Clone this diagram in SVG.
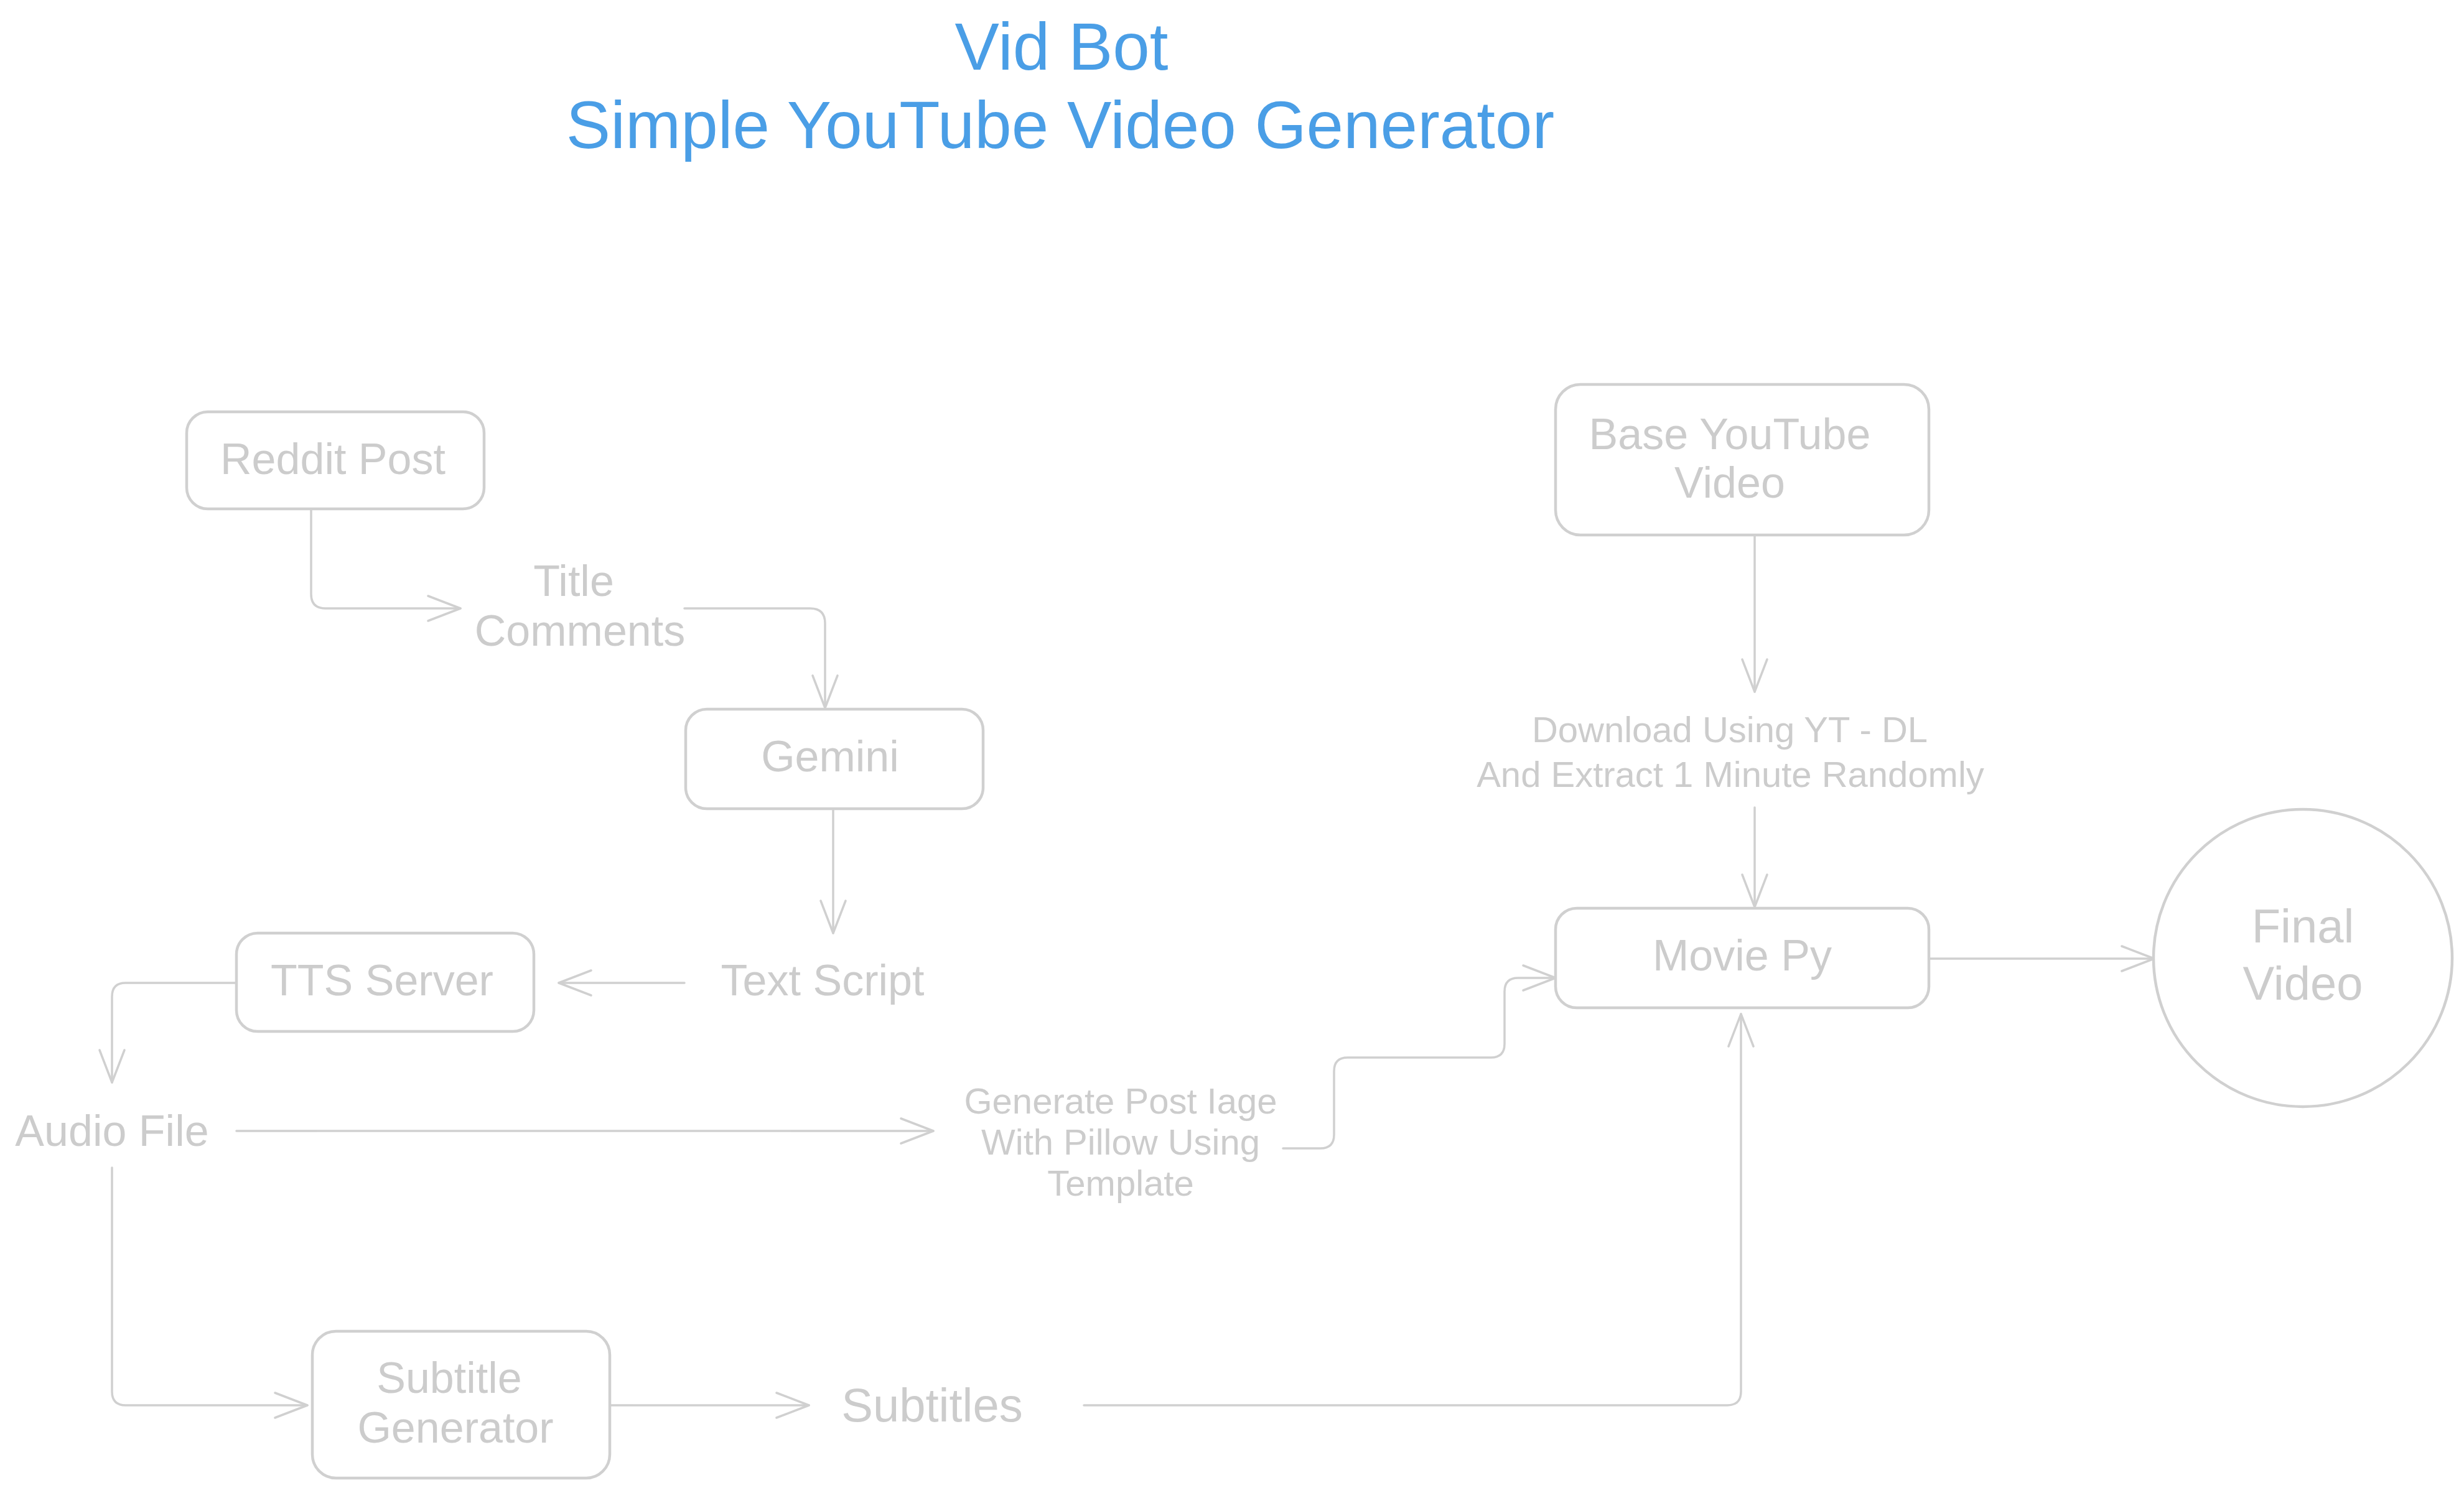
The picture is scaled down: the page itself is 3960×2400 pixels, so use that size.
<svg xmlns="http://www.w3.org/2000/svg" width="3960" height="2400" viewBox="0 0 3960 2400">
<defs>
<style>
.box{fill:#ffffff;stroke:#d0d0d0;stroke-width:4.5}
.edge{fill:none;stroke:#d0d0d0;stroke-width:3.5;stroke-linecap:round;stroke-linejoin:round}
.t{font-family:"Liberation Sans","DejaVu Sans",sans-serif;fill:#cccccc;text-anchor:middle}
.n{font-size:70px}
.s{font-size:58px}
.l{font-size:76px}
.title{font-family:"Liberation Sans","DejaVu Sans",sans-serif;fill:#4a9ee6;text-anchor:middle;font-size:107px}
</style>
<marker id="arr" markerUnits="userSpaceOnUse" markerWidth="64" markerHeight="54" viewBox="0 0 64 54" refX="58" refY="27" orient="auto">
<path d="M6,7 L58,27 L6,47" fill="none" stroke="#d0d0d0" stroke-width="3.5" stroke-linecap="round" stroke-linejoin="round"/>
</marker>
</defs>
<rect width="3960" height="2400" fill="#ffffff"/>

<g id="title">
<text class="title" x="1706" y="112">Vid Bot</text>
<text class="title" x="1704" y="238">Simple YouTube Video Generator</text>
</g>

<g id="connectors">
<path class="edge" marker-end="url(#arr)" d="M500,818 L500,955 Q500,978 523,978 L740,978"/>
<path class="edge" marker-end="url(#arr)" d="M1100,978 L1302,978 Q1326,978 1326,1002 L1326,1138"/>
<path class="edge" marker-end="url(#arr)" d="M1339,1300 L1339,1500"/>
<path class="edge" marker-end="url(#arr)" d="M1100,1580 L898,1580"/>
<path class="edge" marker-end="url(#arr)" d="M380,1580 L202,1580 Q180,1580 180,1602 L180,1740"/>
<path class="edge" marker-end="url(#arr)" d="M380,1818 L1500,1818"/>
<path class="edge" marker-end="url(#arr)" d="M2062,1846 L2122,1846 Q2144,1846 2144,1824 L2144,1722 Q2144,1700 2166,1700 L2396,1700 Q2418,1700 2418,1678 L2418,1594 Q2418,1572 2440,1572 L2500,1572"/>
<path class="edge" marker-end="url(#arr)" d="M2820,861 L2820,1112"/>
<path class="edge" marker-end="url(#arr)" d="M2820,1298 L2820,1458"/>
<path class="edge" marker-end="url(#arr)" d="M3100,1541 L3462,1541"/>
<path class="edge" marker-end="url(#arr)" d="M180,1877 L180,2237 Q180,2259 202,2259 L494,2259"/>
<path class="edge" marker-end="url(#arr)" d="M980,2259 L1300,2259"/>
<path class="edge" marker-end="url(#arr)" d="M1742,2259 L2776,2259 Q2798,2259 2798,2237 L2798,1630"/>
</g>

<g id="reddit-post">
<rect class="box" x="300" y="662" width="478" height="156" rx="34"/>
<text class="t n" x="535" y="762">Reddit Post</text>
</g>

<g id="title-comments">
<text class="t n" x="922" y="958">Title</text>
<text class="t n" x="932" y="1038">Comments</text>
</g>

<g id="gemini">
<rect class="box" x="1102" y="1140" width="478" height="160" rx="34"/>
<text class="t n" x="1334" y="1240">Gemini</text>
</g>

<g id="text-script">
<text class="t n" x="1322" y="1600">Text Script</text>
</g>

<g id="tts-server">
<rect class="box" x="380" y="1500" width="478" height="158" rx="34"/>
<text class="t n" x="614" y="1600">TTS Server</text>
</g>

<g id="audio-file">
<text class="t n" x="180" y="1842">Audio File</text>
</g>

<g id="generate-post-image">
<text class="t s" x="1801" y="1790">Generate Post Iage</text>
<text class="t s" x="1801" y="1856">With Pillow Using</text>
<text class="t s" x="1801" y="1922">Template</text>
</g>

<g id="base-youtube-video">
<rect class="box" x="2500" y="618" width="600" height="242" rx="40"/>
<text class="t n" x="2780" y="722">Base YouTube</text>
<text class="t n" x="2780" y="800">Video</text>
</g>

<g id="download">
<text class="t s" x="2780" y="1193">Download Using YT - DL</text>
<text class="t s" x="2781" y="1265">And Extract 1 Minute Randomly</text>
</g>

<g id="movie-py">
<rect class="box" x="2500" y="1460" width="600" height="160" rx="34"/>
<text class="t n" x="2800" y="1560">Movie Py</text>
</g>

<g id="final-video">
<ellipse class="box" cx="3701" cy="1540" rx="240" ry="239"/>
<text class="t l" x="3701" y="1515">Final</text>
<text class="t l" x="3701" y="1607">Video</text>
</g>

<g id="subtitle-generator">
<rect class="box" x="502" y="2140" width="478" height="236" rx="38"/>
<text class="t n" x="722" y="2239">Subtitle</text>
<text class="t n" x="732" y="2319">Generator</text>
</g>

<g id="subtitles">
<text class="t l" x="1498" y="2285">Subtitles</text>
</g>
</svg>
